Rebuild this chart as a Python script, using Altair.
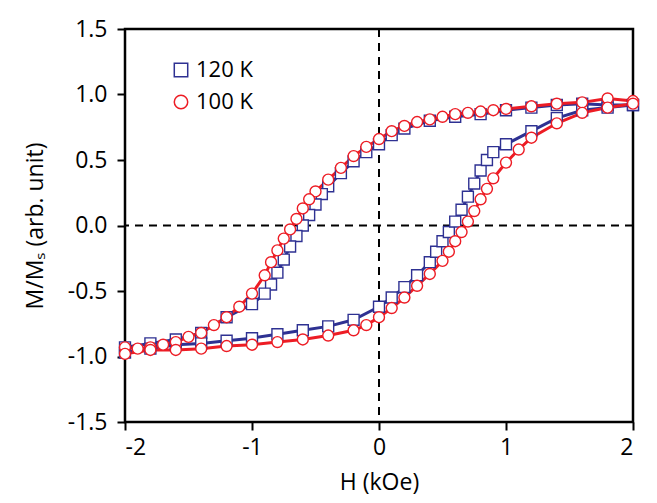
import altair as alt
import pandas as pd

# 120 K branches (H in kOe, M/Ms)
h120_down = [2.0, 1.8, 1.6, 1.4, 1.2, 1.0, 0.8, 0.6, 0.4, 0.2, 0.1, 0.0, -0.1, -0.2, -0.3, -0.4, -0.45,
             -0.5, -0.55, -0.6, -0.65, -0.7, -0.75, -0.8, -0.85, -0.9, -1.0, -1.2, -1.4, -1.6, -1.8, -2.0]
m120_down = [0.92, 0.92, 0.93, 0.92, 0.90, 0.88, 0.85, 0.83, 0.80, 0.74, 0.69, 0.62, 0.56, 0.49, 0.40, 0.30, 0.24,
             0.16, 0.08, 0.0, -0.08, -0.16, -0.26, -0.36, -0.45, -0.52, -0.60, -0.70, -0.82, -0.87, -0.90, -0.93]
h120_up = [-2.0, -1.8, -1.6, -1.4, -1.2, -1.0, -0.8, -0.6, -0.4, -0.2, 0.0, 0.1, 0.2, 0.3, 0.4, 0.45,
           0.5, 0.55, 0.6, 0.65, 0.7, 0.75, 0.8, 0.85, 0.9, 1.0, 1.2, 1.4, 1.6, 1.8, 2.0]
m120_up = [-0.97, -0.94, -0.91, -0.90, -0.88, -0.86, -0.83, -0.80, -0.77, -0.72, -0.62, -0.55, -0.47, -0.38, -0.28, -0.20,
           -0.12, -0.05, 0.03, 0.12, 0.22, 0.32, 0.42, 0.50, 0.56, 0.62, 0.72, 0.82, 0.88, 0.90, 0.92]

# 100 K branches
h100_down = [2.0, 1.8, 1.6, 1.4, 1.2, 1.0, 0.9, 0.8, 0.7, 0.6, 0.5, 0.4, 0.3, 0.2, 0.1, 0.0, -0.1, -0.2, -0.3, -0.4,
             -0.5, -0.55, -0.6, -0.65, -0.7, -0.75, -0.8, -0.85, -0.9, -1.0, -1.1, -1.2, -1.3, -1.4, -1.5, -1.6,
             -1.7, -1.8, -1.9, -2.0]
m100_down = [0.95, 0.97, 0.94, 0.93, 0.91, 0.89, 0.88, 0.87, 0.86, 0.85, 0.83, 0.81, 0.79, 0.76, 0.72, 0.66, 0.60,
             0.53, 0.44, 0.35, 0.26, 0.20, 0.13, 0.05, -0.03, -0.10, -0.19, -0.28, -0.38, -0.52, -0.62, -0.70, -0.76,
             -0.82, -0.85, -0.89, -0.91, -0.93, -0.94, -0.93]
h100_up = [-2.0, -1.8, -1.6, -1.4, -1.2, -1.0, -0.8, -0.6, -0.4, -0.2, -0.1, 0.0, 0.1, 0.2, 0.3, 0.4, 0.5, 0.55,
           0.6, 0.65, 0.7, 0.75, 0.8, 0.85, 0.9, 1.0, 1.1, 1.2, 1.4, 1.6, 1.8, 2.0]
m100_up = [-0.98, -0.95, -0.95, -0.94, -0.92, -0.91, -0.89, -0.87, -0.84, -0.80, -0.76, -0.70, -0.63, -0.55, -0.46,
           -0.37, -0.27, -0.20, -0.12, -0.05, 0.03, 0.11, 0.20, 0.28, 0.36, 0.48, 0.58, 0.67, 0.78, 0.86, 0.90, 0.93]

temps = ["120 K", "100 K"]
BLUE = "#2e3192"
RED = "#ed1c24"


def branch(h, m, temp, name):
    return pd.DataFrame({"H": h, "M": m, "T": temp, "branch": name, "i": range(len(h))})


df = pd.concat([
    branch(h120_down, m120_down, "120 K", "120d"),
    branch(h120_up, m120_up, "120 K", "120u"),
    branch(h100_down, m100_down, "100 K", "100d"),
    branch(h100_up, m100_up, "100 K", "100u"),
])

x_label = "datum.value < 0 ? '-' + format(-datum.value, 'd') : format(datum.value, 'd')"
y_label = "datum.value < 0 ? '-' + format(-datum.value, '.1f') : format(datum.value, '.1f')"

x = alt.X("H:Q", title="H (kOe)", scale=alt.Scale(domain=[-2, 2], nice=False),
          axis=alt.Axis(values=[-2, -1, 0, 1, 2], labelExpr=x_label, grid=False, titlePadding=12, labelPadding=6))
y = alt.Y("M:Q", title="M/Mₛ (arb. unit)", scale=alt.Scale(domain=[-1.5, 1.5], nice=False),
          axis=alt.Axis(values=[-1.5, -1.0, -0.5, 0.0, 0.5, 1.0, 1.5], labelExpr=y_label, grid=False,
                        titlePadding=20, labelPadding=10))
legend = alt.Legend(title=None, orient="none", legendX=45, legendY=30, labelFontSize=22, symbolSize=180,
                    symbolStrokeWidth=1.5, labelFont="Open Sans", rowPadding=10, labelColor="black",
                    symbolFillColor="white")
color = alt.Color("T:N", scale=alt.Scale(domain=temps, range=[BLUE, RED]), legend=legend)
shape = alt.Shape("T:N", scale=alt.Scale(domain=temps, range=["square", "circle"]), legend=legend)

base = alt.Chart(df)
zero_v = alt.Chart(pd.DataFrame({"H": [0]})).mark_rule(color="black", strokeDash=[8, 6], strokeWidth=2).encode(x="H:Q")
zero_h = alt.Chart(pd.DataFrame({"M": [0]})).mark_rule(color="black", strokeDash=[8, 6], strokeWidth=2).encode(y="M:Q")

lines = base.mark_line(strokeWidth=3).encode(x=x, y=y, color=color, detail="branch:N", order="i:Q")


def points(temp):
    return base.transform_filter(f"datum.T == '{temp}'").mark_point(
        filled=False, fill="white", fillOpacity=1, opacity=1, size=120, strokeWidth=1.4
    ).encode(x=x, y=y, color=color, shape=shape)


chart = alt.layer(zero_v, zero_h, lines, points("120 K"), points("100 K")).properties(
    width=508, height=393, padding={"left": 16, "top": 10, "right": 2, "bottom": 2}
).configure_axis(
    labelFont="Open Sans", titleFont="Open Sans", labelFontSize=23, titleFontSize=23,
    titleFontWeight="normal", labelColor="black", titleColor="black",
    domainColor="black", tickColor="black", tickWidth=2, tickSize=8
).configure_view(stroke="black", strokeWidth=2.5)

chart.save("out.html", embed_options={"renderer": "svg", "actions": False})
